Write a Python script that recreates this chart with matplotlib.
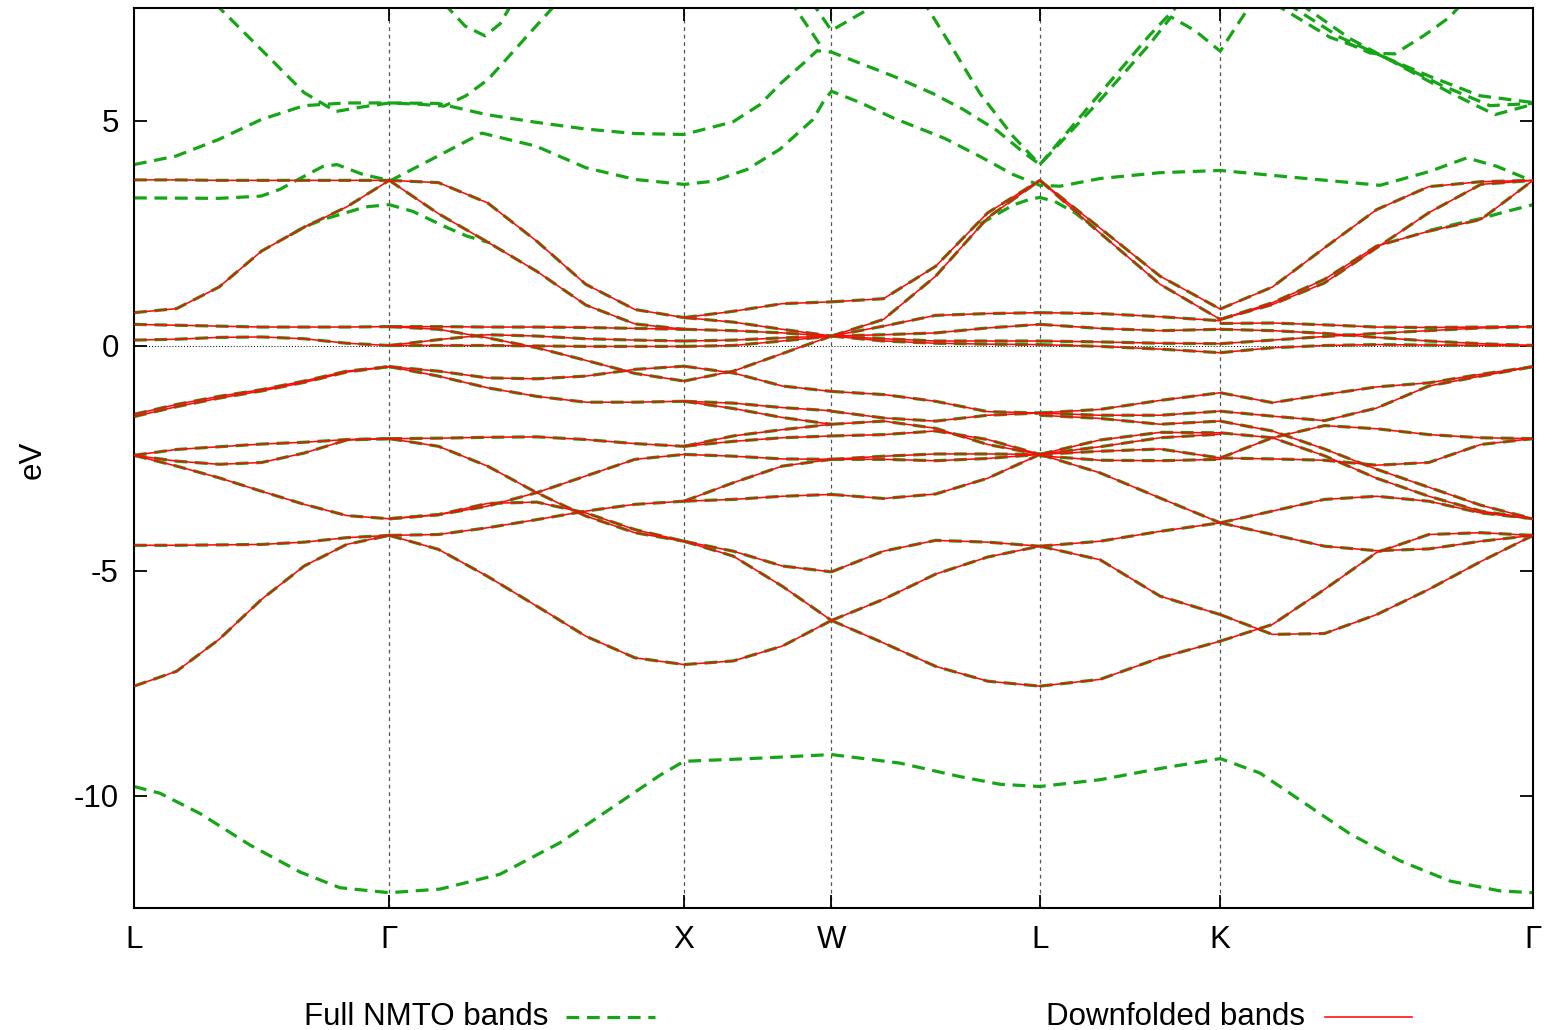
import numpy as np
import matplotlib
matplotlib.use("Agg")
import matplotlib.pyplot as plt
from matplotlib.lines import Line2D

plt.rcParams['font.family'] = ['Liberation Sans', 'DejaVu Sans']

# ---------------- high-symmetry path ----------------
sym_labels = ['L', 'Γ', 'X', 'W', 'L', 'K', 'Γ']
sym_k = [0.0, 0.866, 1.866, 2.366, 3.073, 3.685, 4.746]
seg_samples = [7, 7, 4, 5, 4, 7]   # sample points per segment (incl. ends)

# ---------------- downfolded (red) bands, per segment (eV) ----------------
bands_L_G = [
    [3.68, 3.68, 3.67, 3.67, 3.67, 3.67, 3.67],
    [0.73, 0.82, 1.30, 2.10, 2.63, 3.08, 3.67],
    [0.47, 0.45, 0.43, 0.41, 0.41, 0.41, 0.42],
    [0.12, 0.14, 0.18, 0.19, 0.15, 0.05, 0.00],
    [-1.53, -1.31, -1.13, -0.98, -0.79, -0.57, -0.47],
    [-1.58, -1.36, -1.17, -1.01, -0.82, -0.59, -0.47],
    [-2.44, -2.31, -2.25, -2.19, -2.15, -2.09, -2.07],
    [-2.44, -2.57, -2.64, -2.60, -2.39, -2.10, -2.07],
    [-2.44, -2.68, -2.94, -3.24, -3.53, -3.78, -3.85],
    [-4.44, -4.44, -4.43, -4.42, -4.37, -4.27, -4.22],
    [-7.57, -7.24, -6.53, -5.64, -4.90, -4.42, -4.22],
]
bands_G_X = [
    [3.67, 3.62, 3.17, 2.32, 1.36, 0.80, 0.62],
    [3.67, 2.93, 2.30, 1.65, 0.90, 0.48, 0.36],
    [0.42, 0.42, 0.41, 0.41, 0.40, 0.38, 0.36],
    [0.42, 0.36, 0.17, -0.05, -0.33, -0.62, -0.79],
    [0.00, 0.13, 0.24, 0.21, 0.15, 0.12, 0.10],
    [0.00, 0.00, 0.00, -0.01, -0.02, -0.02, -0.02],
    [-0.47, -0.57, -0.72, -0.74, -0.68, -0.53, -0.46],
    [-0.47, -0.68, -0.94, -1.13, -1.26, -1.26, -1.24],
    [-2.07, -2.06, -2.04, -2.03, -2.09, -2.18, -2.24],
    [-2.07, -2.24, -2.68, -3.27, -3.79, -4.16, -4.35],
    [-3.85, -3.76, -3.57, -3.27, -2.90, -2.53, -2.42],
    [-3.85, -3.76, -3.51, -3.48, -3.72, -4.09, -4.35],
    [-4.22, -4.20, -4.05, -3.87, -3.68, -3.53, -3.46],
    [-4.22, -4.53, -5.13, -5.79, -6.46, -6.94, -7.09],
]
bands_X_W = [
    [0.62, 0.76, 0.93, 0.97],
    [0.62, 0.52, 0.36, 0.21],
    [0.36, 0.33, 0.28, 0.21],
    [0.10, 0.12, 0.17, 0.21],
    [-0.02, 0.00, 0.10, 0.21],
    [-0.79, -0.57, -0.18, 0.21],
    [-0.46, -0.61, -0.90, -1.02],
    [-1.24, -1.28, -1.38, -1.45],
    [-1.24, -1.40, -1.60, -1.75],
    [-2.24, -2.01, -1.87, -1.75],
    [-2.24, -2.13, -2.05, -2.01],
    [-2.42, -2.46, -2.52, -2.53],
    [-3.46, -3.05, -2.68, -2.53],
    [-3.46, -3.42, -3.35, -3.31],
    [-4.35, -4.57, -4.90, -5.03],
    [-4.35, -4.68, -5.35, -6.11],
    [-7.09, -7.01, -6.68, -6.11],
]
bands_W_L = [
    [0.97, 1.04, 1.76, 2.95, 3.67],
    [0.21, 0.58, 1.54, 2.84, 3.67],
    [0.21, 0.43, 0.67, 0.71, 0.73],
    [0.21, 0.24, 0.28, 0.39, 0.47],
    [0.21, 0.15, 0.10, 0.10, 0.10],
    [0.21, 0.10, 0.05, 0.03, 0.02],
    [-1.02, -1.09, -1.24, -1.47, -1.50],
    [-1.46, -1.61, -1.68, -1.55, -1.50],
    [-1.75, -1.68, -1.84, -2.20, -2.42],
    [-2.01, -1.98, -1.90, -2.09, -2.42],
    [-2.53, -2.46, -2.41, -2.41, -2.42],
    [-2.53, -2.53, -2.56, -2.51, -2.42],
    [-3.31, -3.40, -3.30, -2.95, -2.42],
    [-5.03, -4.57, -4.33, -4.37, -4.46],
    [-6.11, -5.64, -5.08, -4.70, -4.46],
    [-6.11, -6.61, -7.13, -7.46, -7.57],
]
bands_L_K = [
    [3.67, 2.61, 1.54, 0.81],
    [3.67, 2.50, 1.36, 0.58],
    [0.73, 0.71, 0.64, 0.55],
    [0.47, 0.38, 0.33, 0.36],
    [0.10, 0.08, 0.05, 0.04],
    [0.02, -0.02, -0.08, -0.16],
    [-1.50, -1.42, -1.22, -1.05],
    [-1.50, -1.55, -1.55, -1.46],
    [-1.55, -1.62, -1.75, -1.68],
    [-2.42, -2.10, -1.93, -1.94],
    [-2.42, -2.25, -2.05, -1.97],
    [-2.42, -2.35, -2.30, -2.50],
    [-2.45, -2.55, -2.56, -2.53],
    [-2.42, -2.83, -3.39, -3.94],
    [-4.46, -4.35, -4.13, -3.94],
    [-4.46, -4.76, -5.57, -5.98],
    [-7.57, -7.42, -6.94, -6.57],
]
bands_K_G = [
    [0.81, 1.30, 2.17, 3.02, 3.53, 3.64, 3.67],
    [0.58, 0.91, 1.39, 2.17, 2.95, 3.58, 3.67],
    [0.58, 0.95, 1.47, 2.21, 2.54, 2.80, 3.67],
    [0.49, 0.50, 0.46, 0.41, 0.40, 0.41, 0.42],
    [0.36, 0.33, 0.27, 0.18, 0.10, 0.04, 0.00],
    [0.04, 0.12, 0.20, 0.27, 0.33, 0.39, 0.42],
    [-0.16, -0.05, 0.00, 0.02, 0.01, 0.00, 0.00],
    [-1.05, -1.27, -1.09, -0.92, -0.83, -0.64, -0.47],
    [-1.46, -1.57, -1.67, -1.39, -0.90, -0.68, -0.47],
    [-2.50, -2.05, -1.78, -1.85, -1.98, -2.05, -2.07],
    [-1.68, -1.90, -2.30, -2.75, -3.15, -3.55, -3.85],
    [-1.94, -2.05, -2.45, -2.95, -3.35, -3.68, -3.85],
    [-2.50, -2.52, -2.55, -2.66, -2.60, -2.20, -2.07],
    [-3.94, -3.68, -3.42, -3.35, -3.46, -3.72, -3.85],
    [-3.94, -4.20, -4.46, -4.56, -4.52, -4.35, -4.22],
    [-5.98, -6.42, -6.40, -5.98, -5.42, -4.80, -4.22],
    [-6.57, -6.20, -5.42, -4.60, -4.20, -4.16, -4.22],
]
segment_bands = [bands_L_G, bands_G_X, bands_X_W, bands_W_L, bands_L_K, bands_K_G]

# ---------------- extra bands present only in the full NMTO set (green) ----------------
nmto_a_k = [0, 0.288, 0.431, 0.495, 0.577, 0.641, 0.689, 0.777, 0.866]
nmto_a_e = [3.28, 3.27, 3.32, 3.47, 3.76, 3.98, 4.02, 3.80, 3.67]

nmto_b_k = [0.529, 0.577, 0.641, 0.719, 0.784, 0.866, 0.946, 1.062, 1.130, 1.208]
nmto_b_e = [2.45, 2.63, 2.80, 2.95, 3.08, 3.13, 2.98, 2.62, 2.43, 2.28]

nmto_c_k = [0, 0.1425, 0.288, 0.431, 0.577, 0.719, 0.866, 1.031, 1.197, 1.364, 1.533,
            1.700, 1.866, 2.032, 2.123, 2.198, 2.276, 2.317, 2.366, 2.578, 2.710,
            2.812, 2.927, 3.016, 3.073, 3.277, 3.446, 3.518, 3.599, 3.685, 3.735, 3.786]
nmto_c_e = [4.02, 4.21, 4.58, 5.02, 5.33, 5.39, 5.39, 5.38, 5.13, 4.96, 4.81,
            4.71, 4.69, 4.97, 5.35, 5.85, 6.30, 6.55, 6.52, 5.98, 5.60,
            5.25, 4.78, 4.30, 4.02, 5.45, 6.70, 7.30, 7.00, 6.54, 7.05, 7.55]

nmto_d_k = [0.275, 0.431, 0.577, 0.685, 0.773, 0.866, 0.970, 1.052, 1.126, 1.201, 1.323, 1.415, 1.445]
nmto_d_e = [7.60, 6.58, 5.62, 5.20, 5.30, 5.39, 5.36, 5.32, 5.55, 5.91, 6.80, 7.47, 7.70]

nmto_e_k = [1.052, 1.123, 1.191, 1.242, 1.282]
nmto_e_e = [7.60, 7.10, 6.88, 7.15, 7.60]

nmto_f_k = [0.866, 1.031, 1.180, 1.364, 1.533, 1.700, 1.866, 1.964, 2.079, 2.191, 2.303,
            2.337, 2.366, 2.463, 2.578, 2.751, 2.870, 2.982, 3.073, 3.141, 3.277, 3.480,
            3.685, 3.945, 4.227, 4.396, 4.522, 4.624, 4.746]
nmto_f_e = [3.65, 4.21, 4.72, 4.43, 3.95, 3.69, 3.58, 3.65, 3.91, 4.36, 5.02,
            5.40, 5.65, 5.40, 5.05, 4.60, 4.20, 3.80, 3.56, 3.54, 3.71, 3.84,
            3.89, 3.73, 3.56, 3.87, 4.17, 3.98, 3.65]

nmto_g_k = [2.673, 2.768, 2.870, 2.982, 3.073]
nmto_g_e = [7.70, 6.70, 5.60, 4.65, 4.02]

nmto_h_k = [3.073, 3.277, 3.446, 3.555]
nmto_h_e = [4.02, 5.60, 6.90, 7.65]

nmto_i_k = [2.293, 2.317, 2.366, 2.490, 2.514]
nmto_i_e = [7.65, 7.47, 7.00, 7.47, 7.65]

nmto_j_k = [2.225, 2.246, 2.334]
nmto_j_e = [7.70, 7.47, 6.62]

nmto_k_k = [4.396, 4.498, 4.569, 4.651, 4.746]
nmto_k_e = [2.56, 2.72, 2.82, 2.97, 3.13]

nmto_l_k = [2.870, 2.982, 3.039, 3.073, 3.124, 3.192, 3.260]
nmto_l_e = [2.70, 3.12, 3.25, 3.29, 3.20, 2.95, 2.60]

nmto_m_k = [3.867, 4.057, 4.227, 4.396, 4.566, 4.746]
nmto_m_e = [7.60, 6.85, 6.45, 5.98, 5.55, 5.40]

nmto_n_k = [3.911, 4.091, 4.261, 4.430, 4.600, 4.746]
nmto_n_e = [7.60, 6.85, 6.35, 5.80, 5.33, 5.38]

nmto_o_k = [3.955, 4.125, 4.295, 4.464, 4.617, 4.746]
nmto_o_e = [7.60, 6.82, 6.22, 5.62, 5.13, 5.36]

nmto_p_k = [4.108, 4.193, 4.277, 4.379, 4.464, 4.505]
nmto_p_e = [6.75, 6.50, 6.48, 6.90, 7.30, 7.60]

nmto_low_k = [0, 0.0882, 0.2239, 0.3935, 0.5631, 0.6988, 0.866, 1.038, 1.2415, 1.445,
              1.6486, 1.7843, 1.866, 2.0896, 2.366, 2.5984, 2.8019, 2.9376, 3.073,
              3.2768, 3.4803, 3.685, 3.8195, 3.9552, 4.1248, 4.2945, 4.4641, 4.6337, 4.746]
nmto_low_e = [-9.80, -9.95, -10.40, -11.10, -11.70, -12.05, -12.16, -12.08, -11.75, -11.05,
              -10.15, -9.55, -9.24, -9.18, -9.09, -9.28, -9.58, -9.75, -9.80,
              -9.65, -9.40, -9.18, -9.50, -10.10, -10.85, -11.45, -11.90, -12.12, -12.16]

nmto_extra = [(nmto_a_k, nmto_a_e), (nmto_b_k, nmto_b_e), (nmto_c_k, nmto_c_e),
              (nmto_d_k, nmto_d_e), (nmto_e_k, nmto_e_e), (nmto_f_k, nmto_f_e),
              (nmto_g_k, nmto_g_e), (nmto_h_k, nmto_h_e), (nmto_i_k, nmto_i_e),
              (nmto_j_k, nmto_j_e), (nmto_k_k, nmto_k_e), (nmto_l_k, nmto_l_e),
              (nmto_m_k, nmto_m_e), (nmto_n_k, nmto_n_e), (nmto_o_k, nmto_o_e),
              (nmto_p_k, nmto_p_e), (nmto_low_k, nmto_low_e)]

y_ticks = [-10, -5, 0, 5]
y_tick_labels = ['-10', '-5', '0', '5']

# ---------------- drawing ----------------
GREEN = '#16a516'
RED = '#ff0a0a'
FS = 22.5
W, H = 1545, 1030
fig = plt.figure(figsize=(W / 100, H / 100), dpi=100)
ax = fig.add_axes([134 / W, 1 - 908 / H, (1533 - 134) / W, 900 / H])

for kx in sym_k[1:-1]:
    ax.axvline(kx, color='#555555', lw=0.9, dashes=(3, 3), zorder=1)
ax.axhline(0, color='black', lw=0.7, dashes=(1, 2), zorder=1)

green_kw = dict(color=GREEN, lw=2.3, dashes=(4, 2.4), zorder=2,
                dash_capstyle='butt', dash_joinstyle='round')
red_kw = dict(color=RED, lw=1.15, zorder=4, solid_joinstyle='round')

for (k_list, e_list) in nmto_extra:
    ax.plot(k_list, e_list, **green_kw)

for i, bands in enumerate(segment_bands):
    kk = np.linspace(sym_k[i], sym_k[i + 1], seg_samples[i])
    for e in bands:
        ax.plot(kk, e, **green_kw)
for i, bands in enumerate(segment_bands):
    kk = np.linspace(sym_k[i], sym_k[i + 1], seg_samples[i])
    for e in bands:
        ax.plot(kk, e, **red_kw)

ax.set_xlim(sym_k[0], sym_k[-1])
ax.set_ylim(-12.5, 7.5)
ax.set_xticks(sym_k)
ax.set_xticklabels(sym_labels)
ax.set_yticks(y_ticks)
ax.set_yticklabels(y_tick_labels)
ax.tick_params(axis='both', direction='in', length=9.5, width=1.3, labelsize=FS)
ax.tick_params(axis='y', left=True, right=True, pad=11)
ax.tick_params(axis='x', top=True, bottom=True, pad=12)
for sp in ax.spines.values():
    sp.set_linewidth(1.5)

fig.text(33 / W, 1 - 460 / H, 'eV', rotation=90, ha='center', va='center', fontsize=FS)

# key below the plot
ly = 1 - 1017 / H
fig.text(548 / W, ly, 'Full NMTO bands', ha='right', va='center', fontsize=FS)
fig.add_artist(Line2D([566 / W, 655 / W], [ly, ly], transform=fig.transFigure,
                      color=GREEN, lw=2.3, dashes=(4, 2.4)))
fig.text(1305 / W, ly, 'Downfolded bands', ha='right', va='center', fontsize=FS)
fig.add_artist(Line2D([1325 / W, 1412 / W], [ly, ly], transform=fig.transFigure,
                      color=RED, lw=1.15))

fig.savefig('out.png', dpi=100)
